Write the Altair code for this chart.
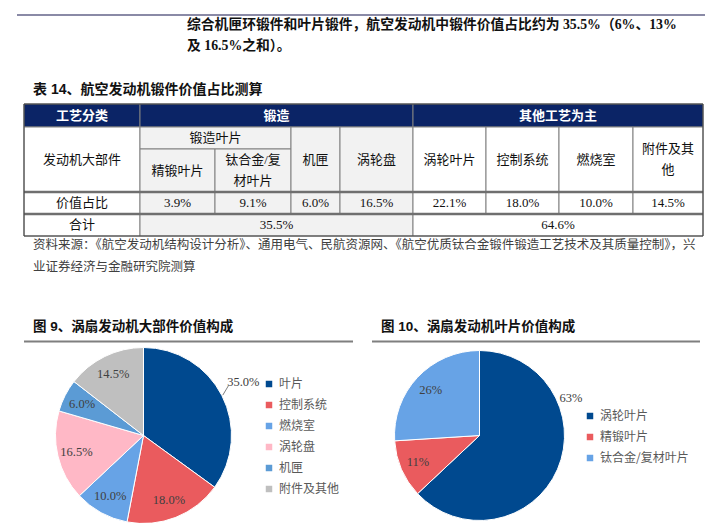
import altair as alt
import pandas as pd
import numpy as np

# ---------------- data ----------------
intro_lines = ["综合机匣环锻件和叶片锻件，航空发动机中锻件价值占比约为 35.5%（6%、13%",
               "及 16.5%之和）。"]
table_title = "表 14、航空发动机锻件价值占比测算"
row_heads = ["工艺分类", "发动机大部件", "价值占比", "合计"]
group_names = ["锻造", "其他工艺为主"]
forge_sub_group = "锻造叶片"
forge_parts = ["精锻叶片", "钛合金/复\n材叶片", "机匣", "涡轮盘"]
forge_values = [3.9, 9.1, 6.0, 16.5]
other_parts = ["涡轮叶片", "控制系统", "燃烧室", "附件及其\n他"]
other_values = [22.1, 18.0, 10.0, 14.5]
group_totals = [35.5, 64.6]
source_lines = ["资料来源：《航空发动机结构设计分析》、通用电气、民航资源网、《航空优质钛合金锻件锻造工艺技术及其质量控制》，兴",
                "业证券经济与金融研究院测算"]

fig9_title = "图 9、涡扇发动机大部件价值构成"
fig9_names = ["叶片", "控制系统", "燃烧室", "涡轮盘", "机匣", "附件及其他"]
fig9_values = [35.0, 18.0, 10.0, 16.5, 6.0, 14.5]

fig10_title = "图 10、涡扇发动机叶片价值构成"
fig10_names = ["涡轮叶片", "精锻叶片", "钛合金/复材叶片"]
fig10_values = [63, 11, 26]

# ---------------- styles / layout ----------------
NAVY = "#0b2466"
CELLGRAY = "#f2f2f2"
LINEGRAY = "#808080"
fig9_colors = ["#00498f", "#ea5b5e", "#67a3e6", "#ffb8c6", "#5b9bd5", "#bfbfbf"]
fig10_colors = ["#00498f", "#ea5b5e", "#67a3e6"]
SERIF = "Liberation Serif, Noto Sans CJK SC"
SANS = "Liberation Sans, Noto Sans CJK SC"

O = 8  # page margin


def px(v):
    return v - O


W, H = 704, 515

COLX = [24, 140, 215, 291, 340, 413, 486, 559, 633, 703]
ROWY = [104, 127, 149, 192, 214, 236]

cells = []


def add(c0, c1, r0, r1, text, kind, ts):
    cells.append(dict(x=px(COLX[c0]), x2=px(COLX[c1]), y=px(ROWY[r0]), y2=px(ROWY[r1]),
                      cx=px((COLX[c0] + COLX[c1]) / 2), cy=px((ROWY[r0] + ROWY[r1]) / 2),
                      text=text, kind=kind, ts=ts))


add(0, 1, 0, 1, row_heads[0], "head", "h")
add(1, 5, 0, 1, group_names[0], "head", "h")
add(5, 9, 0, 1, group_names[1], "head", "h")
add(0, 1, 1, 3, row_heads[1], "plain", "b")
add(1, 3, 1, 2, forge_sub_group, "forge", "b")
add(1, 2, 2, 3, forge_parts[0], "forge", "b")
add(2, 3, 2, 3, forge_parts[1], "forge", "b")
add(3, 4, 1, 3, forge_parts[2], "forge", "b")
add(4, 5, 1, 3, forge_parts[3], "forge", "b")
for k, p in enumerate(other_parts):
    add(5 + k, 6 + k, 1, 3, p, "plain", "b")
add(0, 1, 3, 4, row_heads[2], "plain", "b")
for k, v in enumerate(forge_values):
    add(1 + k, 2 + k, 3, 4, f"{v:.1f}%", "forge", "b")
for k, v in enumerate(other_values):
    add(5 + k, 6 + k, 3, 4, f"{v:.1f}%", "plain", "b")
add(0, 1, 4, 5, row_heads[3], "plain", "b")
add(1, 5, 4, 5, f"{group_totals[0]:.1f}%", "forge", "b")
add(5, 9, 4, 5, f"{group_totals[1]:.1f}%", "plain", "b")
cells_df = pd.DataFrame(cells)

X = lambda f: alt.X(f, scale=None, axis=None)
Y = lambda f: alt.Y(f, scale=None, axis=None)

rects = alt.Chart(cells_df).mark_rect(stroke=LINEGRAY, strokeWidth=1).encode(
    x=X("x:Q"), x2="x2:Q", y=Y("y:Q"), y2="y2:Q",
    color=alt.Color("kind:N", scale=alt.Scale(domain=["head", "forge", "plain"],
                                             range=[NAVY, CELLGRAY, "#ffffff"]), legend=None))

body_one = alt.Chart(cells_df).transform_filter(
    "datum.ts == 'b' && indexof(datum.text, '\\n') < 0").mark_text(
    font=SERIF, fontSize=13, color="#111111",
    align="center", baseline="middle").encode(x=X("cx:Q"), y=Y("cy:Q"), text="text:N")

body_two = alt.Chart(cells_df).transform_filter(
    "datum.ts == 'b' && indexof(datum.text, '\\n') >= 0").mark_text(
    font=SERIF, fontSize=13, color="#111111", lineBreak="\n", lineHeight=21, dy=-11,
    align="center", baseline="middle").encode(x=X("cx:Q"), y=Y("cy:Q"), text="text:N")

head_txt = alt.Chart(cells_df).transform_filter("datum.ts == 'h'").mark_text(
    font=SERIF, fontSize=13, fontWeight="bold", color="white",
    align="center", baseline="middle").encode(x=X("cx:Q"), y=Y("cy:Q"), text="text:N")

thick = pd.DataFrame({"x": [px(COLX[0])] * 2, "x2": [px(COLX[-1])] * 2,
                      "y": [px(ROWY[3]), px(ROWY[4])]})
thick_rules = alt.Chart(thick).mark_rule(color="#6f6f6f", strokeWidth=2.5).encode(
    x=X("x:Q"), x2="x2:Q", y=Y("y:Q"))

one = pd.DataFrame({"a": [0]})
frame = alt.Chart(one).mark_rect(fillOpacity=0, stroke="#404040", strokeWidth=1).encode(
    x=alt.value(px(COLX[0])), x2=alt.value(px(COLX[-1])),
    y=alt.value(px(ROWY[0])), y2=alt.value(px(ROWY[-1])))


def hline(x0, x1, y, color, w):
    return alt.Chart(one).mark_rule(color=color, strokeWidth=w).encode(
        x=alt.value(px(x0)), x2=alt.value(px(x1)), y=alt.value(px(y)))


def txt(s, x, y, **kw):
    return alt.Chart(pd.DataFrame({"t": [s]})).mark_text(
        align="left", baseline="middle", **kw).encode(
        x=alt.value(px(x)), y=alt.value(px(y)), text="t:N")


texts = [
    hline(17, 705, 15, "#8a8aa6", 2),
    txt(intro_lines[0], 187, 24.5, font=SERIF, fontSize=13.8, fontWeight="bold", color="#111111"),
    txt(intro_lines[1], 187, 45.5, font=SERIF, fontSize=13.8, fontWeight="bold", color="#111111"),
    txt(table_title, 33, 90, font=SANS, fontSize=14, fontWeight="bold", color="#111111"),
    txt(source_lines[0], 33, 245, font=SERIF, fontSize=12.5, color="#404040"),
    txt(source_lines[1], 33, 267, font=SERIF, fontSize=12.5, color="#404040"),
    txt(fig9_title, 33, 327, font=SANS, fontSize=13.5, fontWeight="bold", color="#111111"),
    hline(24, 353, 341.5, "#7f7f7f", 2),
    txt(fig10_title, 381, 327, font=SANS, fontSize=13.5, fontWeight="bold", color="#111111"),
    hline(372, 700, 341.5, "#7f7f7f", 2),
]


def leg(x, y):
    return alt.Legend(orient="none", legendX=x, legendY=y, title=None, symbolType="square",
                      symbolSize=42, symbolStrokeWidth=0, labelFont="Noto Sans CJK SC",
                      labelFontSize=12, labelColor="#595959", rowPadding=9, labelOffset=4,
                      padding=0, labelLimit=300)


def pie(names, values, colors, cx, cy, r, lr, fmt, legxy):
    df = pd.DataFrame({"name": names, "v": values, "i": list(range(len(names)))})
    base = alt.Chart(df).encode(
        theta=alt.Theta("v:Q", stack=True), order=alt.Order("i:Q"),
        x=alt.value(px(cx)), y=alt.value(px(cy)))
    arcs = base.mark_arc(radius=r, stroke="white", strokeWidth=1).encode(
        color=alt.Color("name:N", scale=alt.Scale(domain=names, range=colors),
                        sort=names, legend=leg(*legxy)))
    inner = base.transform_calculate(
        lbl=f"datum.v >= 30 ? '' : format(datum.v, '{fmt}') + '%'").mark_text(
        radius=lr, font=SERIF, fontSize=12.5, color="#404040").encode(
        detail="name:N", text="lbl:N")
    return df, arcs, inner


C9 = (143.5, 435.5)
df9, arcs9, in9 = pie(fig9_names, fig9_values, fig9_colors, C9[0], C9[1], 88, 69, ".1f",
                      (255, 370))
out9 = alt.Chart(df9).encode(
    theta=alt.Theta("v:Q", stack=True), order=alt.Order("i:Q"),
    x=alt.value(px(C9[0])), y=alt.value(px(C9[1]))).transform_calculate(
    lbl="datum.v >= 30 ? format(datum.v, '.1f') + '%' : ''").mark_text(
    radius=112, dy=-3, font=SERIF, fontSize=12.5, color="#404040").encode(
    detail="name:N", text="lbl:N")

# leader line for the big slice (start point computed from the data)
v9 = np.array(fig9_values)
mid = (np.cumsum(v9) - v9 / 2)[0] / v9.sum() * 2 * np.pi
sx, sy = C9[0] + 89 * np.sin(mid), C9[1] - 89 * np.cos(mid)
lead = pd.DataFrame({"x": [px(sx)], "y": [px(sy)], "x2": [px(sx + 6)], "y2": [px(sy - 10)]})
lead9 = alt.Chart(lead).mark_rule(color="#808080", strokeWidth=1).encode(
    x=X("x:Q"), y=Y("y:Q"), x2="x2:Q", y2="y2:Q")

df10, arcs10, in10 = pie(fig10_names, fig10_values, fig10_colors, 479.5, 435.5, 85, 67, "d",
                         (576, 402))
big10 = df10[df10.v == df10.v.max()]
out10 = alt.Chart(big10).transform_calculate(
    lbl="format(datum.v, 'd') + '%'").mark_text(
    radius=99, theta=1.18, font=SERIF, fontSize=12.5, color="#404040").encode(
    x=alt.value(px(479.5)), y=alt.value(px(435.5)), text="lbl:N")

chart = alt.layer(
    rects, thick_rules, frame, body_one, body_two, head_txt, *texts,
    arcs9, in9, out9, lead9, arcs10, in10, out10
).resolve_scale(color="independent").properties(
    width=W, height=H, padding=0, autosize="none", background="white"
).configure_view(stroke=None)

chart.save("out.html", embed_options={"renderer": "svg", "actions": False})
